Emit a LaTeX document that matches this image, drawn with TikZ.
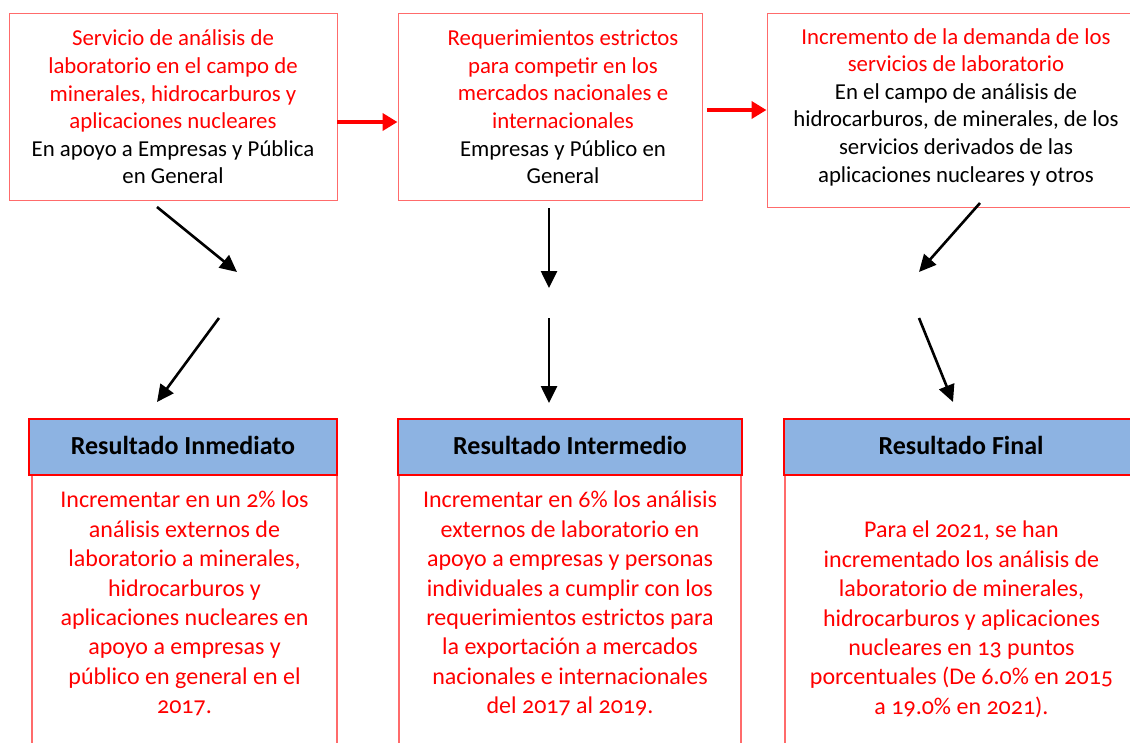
\documentclass[tikz,border=0pt]{standalone}
\usepackage{fontspec}
\setmainfont{Carlito}[Numbers=OldStyle]
\usetikzlibrary{arrows.meta}
\definecolor{boxred}{HTML}{FF6B6B}
\definecolor{txtred}{HTML}{FF0000}
\definecolor{hdrblue}{HTML}{8DB3E2}
\tikzset{
  topbox/.style={draw=boxred, line width=1pt, minimum width=#1, inner sep=0pt},
  toptext/.style={align=center, text=txtred, font=\fontsize{22.8}{27.6}\selectfont, inner sep=0pt},
  hdr/.style={draw=txtred, line width=2pt, fill=hdrblue, inner sep=0pt, minimum height=56pt},
  hdrtext/.style={inner sep=0pt, font=\fontsize{26}{30}\selectfont\bfseries},
  bodytext/.style={align=center, text=txtred, font=\fontsize{24}{29.4}\selectfont, inner sep=0pt},
  blackarrow/.style={draw=black, line width=2.6pt, -{Triangle[length=17pt, width=16pt]}},
  redarrow/.style={draw=txtred, line width=3.8pt, -{Triangle[length=15pt, width=17pt]}},
  bodyline/.style={draw=boxred, line width=1.2pt}
}
\newcommand\blk{\color{black}}
\begin{document}
\begin{tikzpicture}[x=1pt, y=-1pt]
\useasboundingbox (0,0) rectangle (1130,742);
% top boxes
\node[topbox=328pt, minimum height=187pt] (b1) at (173,106.5) {};
\node[topbox=304pt, minimum height=187pt] (b2) at (550,106.5) {};
\node[topbox=363pt, minimum height=194pt] (b3) at (948.5,110) {};
\node[toptext] (t1) at (173,107) {Servicio de análisis de\\laboratorio en el campo de\\minerales, hidrocarburos y\\aplicaciones nucleares\\\blk En apoyo a Empresas y Pública\\\blk en General};
\node[toptext] (t2) at (563,107) {Requerimientos estrictos\\para competir en los\\mercados nacionales e\\internacionales\\\blk Empresas y Público en\\\blk General};
\node[toptext] (t3) at (956,107) {Incremento de la demanda de los\\servicios de laboratorio\\\blk En el campo de análisis de\\\blk hidrocarburos, de minerales, de los\\\blk servicios derivados de las\\\blk aplicaciones nucleares y otros};
% red arrows
\coordinate (r1s) at (337,122);
\coordinate (r2s) at (707,110);
\draw[redarrow] (r1s) -- (b2.west |- r1s);
\draw[redarrow] (r2s) -- (b3.west |- r2s);
% headers
\node[hdr, minimum width=308pt] (h1) at (183,447) {};
\node[hdr, minimum width=344pt] (h2) at (570,447) {};
\node[hdr, minimum width=350pt] (h3) at (959,447) {};
\node[hdrtext] (ht1) at (183,445) {Resultado Inmediato};
\node[hdrtext] (ht2) at (570,445) {Resultado Intermedio};
\node[hdrtext] (ht3) at (961,445) {Resultado Final};
% body lines
\coordinate (l1) at (32,745);
\coordinate (l2) at (337,745);
\coordinate (l3) at (399,745);
\coordinate (l4) at (741,745);
\coordinate (l5) at (785,745);
\draw[bodyline] (l1 |- h1.south) -- (l1);
\draw[bodyline] (l2 |- h1.south) -- (l2);
\draw[bodyline] (l3 |- h2.south) -- (l3);
\draw[bodyline] (l4 |- h2.south) -- (l4);
\draw[bodyline] (l5 |- h3.south) -- (l5);
% body texts
\node[bodytext, anchor=north] (x1) at (184.5,491) {Incrementar en un 2\% los\\análisis externos de\\laboratorio a minerales,\\hidrocarburos y\\aplicaciones nucleares en\\apoyo a empresas y\\público en general en el\\2017.};
\node[bodytext, anchor=north] (x2) at (570,491) {Incrementar en 6\% los análisis\\externos de laboratorio en\\apoyo a empresas y personas\\individuales a cumplir con los\\requerimientos estrictos para\\la exportación a mercados\\nacionales e internacionales\\del 2017 al 2019.};
\node[bodytext, anchor=north] (x3) at (961.5,521) {Para el 2021, se han\\incrementado los análisis de\\laboratorio de minerales,\\hidrocarburos y aplicaciones\\nucleares en 13 puntos\\porcentuales (De 6.0\% en 2015\\a 19.0\% en 2021).};
% black arrows
\coordinate (a1s) at (157,207);
\coordinate (a1e) at (237,272);
\coordinate (a2s) at (219,318);
\coordinate (a2e) at (157,402);
\coordinate (a3s) at (549,208);
\coordinate (a3e) at (549,288);
\coordinate (a4s) at (549,318);
\coordinate (a4e) at (549,403);
\coordinate (a5s) at (980,203);
\coordinate (a5e) at (919,272);
\coordinate (a6s) at (919,318);
\coordinate (a6e) at (953,402);
\draw[blackarrow] (a1s) -- (a1e);
\draw[blackarrow] (a2s) -- (a2e);
\draw[blackarrow] (a3s) -- (a3e);
\draw[blackarrow] (a4s) -- (a4e);
\draw[blackarrow] (a5s) -- (a5e);
\draw[blackarrow] (a6s) -- (a6e);
\end{tikzpicture}
\end{document}
